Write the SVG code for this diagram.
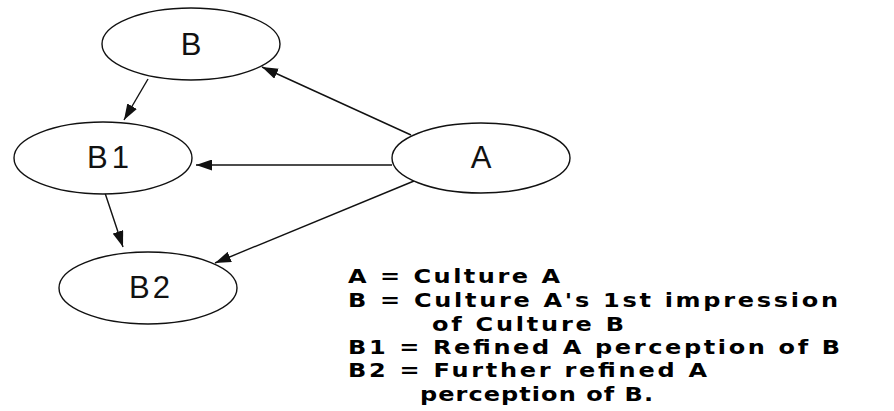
<svg xmlns="http://www.w3.org/2000/svg" width="894" height="411" viewBox="0 0 894 411">
<style>
.node ellipse{fill:#fff;stroke:#111;stroke-width:1.4}
.node text{font-family:"Liberation Sans",Arial,sans-serif;font-size:31px;fill:#111;text-anchor:middle}
.edges line{stroke:#111;stroke-width:1.4;marker-end:url(#ah)}
.legend text{font-family:"DejaVu Sans",Verdana,sans-serif;font-size:20px;font-weight:bold;fill:#000}
</style>
<defs>
<marker id="ah" viewBox="0 0 16 11" refX="16" refY="5.5" markerWidth="16" markerHeight="11" markerUnits="userSpaceOnUse" orient="auto">
<path d="M0,0 L16,5.5 L0,11 z" fill="#111"/>
</marker>
</defs>
<rect width="894" height="411" fill="#fff"/>
<g class="edges">
<line x1="411" y1="135" x2="262" y2="67"/>
<line x1="392" y1="165" x2="196" y2="165"/>
<line x1="414" y1="181" x2="215" y2="263"/>
<line x1="148" y1="79" x2="124" y2="120"/>
<line x1="105" y1="193" x2="123" y2="247"/>
</g>
<g id="node-B" class="node"><ellipse cx="191" cy="44" rx="89" ry="36"/><text x="191" y="55">B</text></g>
<g id="node-B1" class="node"><ellipse cx="103" cy="158" rx="89" ry="36"/><text x="110" y="168" letter-spacing="4">B1</text></g>
<g id="node-B2" class="node"><ellipse cx="148" cy="288" rx="89" ry="36"/><text x="151" y="298" letter-spacing="3">B2</text></g>
<g id="node-A" class="node"><ellipse cx="481" cy="158" rx="89" ry="35"/><text x="481" y="168">A</text></g>
<g class="legend" transform="scale(1.2,1)">
<text x="290" y="283" textLength="176.7" lengthAdjust="spacing">A = Culture A</text>
<text x="290" y="307" textLength="408.3" lengthAdjust="spacing">B = Culture A's 1st impression</text>
<text x="360" y="331" textLength="160" lengthAdjust="spacing">of Culture B</text>
<text x="290" y="354" textLength="410" lengthAdjust="spacing">B1 = Refined A perception of B</text>
<text x="290" y="377" textLength="299.2" lengthAdjust="spacing">B2 = Further refined A</text>
<text x="350" y="401" textLength="194.2" lengthAdjust="spacing">perception of B.</text>
</g>
</svg>
